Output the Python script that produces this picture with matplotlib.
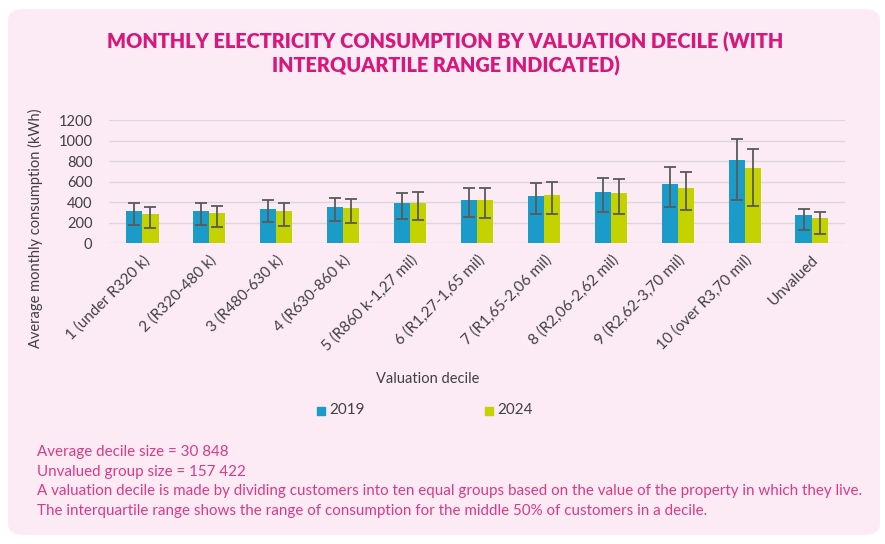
import matplotlib
matplotlib.use("Agg")
import matplotlib.pyplot as plt
from matplotlib.patches import FancyBboxPatch, Rectangle
import numpy as np

categories = ["1 (under R320 k)", "2 (R320-480 k)", "3 (R480-630 k)", "4 (R630-860 k)",
              "5 (R860 k-1,27 mil)", "6 (R1,27-1,65 mil)", "7 (R1,65-2,06 mil)",
              "8 (R2,06-2,62 mil)", "9 (R2,62-3,70 mil)", "10 (over R3,70 mil)", "Unvalued"]
avg_2019 = [316, 310, 333, 352, 388, 417, 456, 499, 577, 808, 277]
q1_2019 = [176, 179, 202, 212, 238, 254, 284, 306, 352, 424, 130]
q3_2019 = [391, 388, 417, 443, 492, 535, 587, 639, 737, 1014, 336]
avg_2024 = [280, 290, 310, 342, 388, 417, 466, 489, 541, 727, 241]
q1_2024 = [147, 160, 166, 196, 222, 248, 280, 287, 319, 359, 91]
q3_2024 = [355, 365, 391, 434, 496, 538, 600, 626, 694, 913, 303]
yticks = [0, 200, 400, 600, 800, 1000, 1200]

BLUE = "#1a9bc9"
GREEN = "#c4d300"
PINK_BG = "#fcebf5"
MAGENTA = "#d8177a"
NOTE = "#d93a85"
TEXT = "#404040"

W, H = 885, 544
fig = plt.figure(figsize=(W / 100, H / 100), dpi=100)
fig.patch.set_facecolor("white")

card = FancyBboxPatch((8 / W, 9 / H), 872 / W, 526 / H,
                      boxstyle="round,pad=0,rounding_size=0.02",
                      transform=fig.transFigure, facecolor=PINK_BG,
                      edgecolor="none", zorder=-10)
fig.patches.append(card)

ax = fig.add_axes([109 / W, 1 - 243 / H, 736 / W, 123 / H])
ax.set_zorder(5)
ax.set_facecolor("none")
x = np.arange(len(categories))
bw = 0.24

err19 = [np.array(avg_2019) - np.array(q1_2019), np.array(q3_2019) - np.array(avg_2019)]
err24 = [np.array(avg_2024) - np.array(q1_2024), np.array(q3_2024) - np.array(avg_2024)]
ekw = dict(ecolor="#5a5a5a", elinewidth=1.3, capsize=4, capthick=1.3)
ax.bar(x - bw / 2, avg_2019, bw, color=BLUE, yerr=err19, error_kw=ekw, zorder=3, label="2019")
ax.bar(x + bw / 2, avg_2024, bw, color=GREEN, yerr=err24, error_kw=ekw, zorder=3, label="2024")

ax.set_xlim(-0.5, len(categories) - 0.5)
ax.set_ylim(0, 1200)
ax.set_yticks(yticks)
ax.set_yticklabels([str(v) for v in yticks], fontsize=10.5, color=TEXT, family="Lato")
ax.yaxis.grid(True, color="#dcd6da", linewidth=1, zorder=0)
ax.set_axisbelow(True)
for s in ax.spines.values():
    s.set_visible(False)
ax.tick_params(axis="both", length=0)
ax.tick_params(axis="y", pad=12)
ax.set_xticks(x)
ax.set_xticklabels(categories, rotation=45, ha="right", rotation_mode="anchor",
                   fontsize=11, color=TEXT, family="Lato")
ax.tick_params(axis="x", pad=7)

fig.text(35 / W, 1 - 228 / H, "Average monthly consumption (kWh)", rotation=90,
         ha="center", va="center", fontsize=10.5, color=TEXT, family="Lato")

fig.text(428 / W, 1 - 379 / H, "Valuation decile", ha="center", va="center",
         fontsize=10.5, color=TEXT, family="Lato")

# legend
for sx, lab, col in [(317, "2019", BLUE), (485, "2024", GREEN)]:
    fig.patches.append(Rectangle((sx / W, 1 - 414.5 / H), 8 / W, 7.5 / H,
                                 transform=fig.transFigure, color=col))
    fig.text((sx + 12.5) / W, 1 - 410 / H, lab, ha="left", va="center",
             fontsize=11, color=TEXT, family="Lato")

fig.text(445.5 / W, 1 - 54 / H,
         "MONTHLY ELECTRICITY CONSUMPTION BY VALUATION DECILE (WITH\nINTERQUARTILE RANGE INDICATED)",
         ha="center", va="center", fontsize=14.3, fontweight="heavy", color=MAGENTA,
         family="Lato", linespacing=1.2)

notes = ["Average decile size = 30 848",
         "Unvalued group size = 157 422",
         "A valuation decile is made by dividing customers into ten equal groups based on the value of the property in which they live.",
         "The interquartile range shows the range of consumption for the middle 50% of customers in a decile."]
for i, t in enumerate(notes):
    fig.text(37 / W, 1 - (452 + i * 19.7) / H, t, ha="left", va="center",
             fontsize=10.9, color=NOTE, family="Lato")

fig.savefig("out.png", dpi=100, facecolor="white")
